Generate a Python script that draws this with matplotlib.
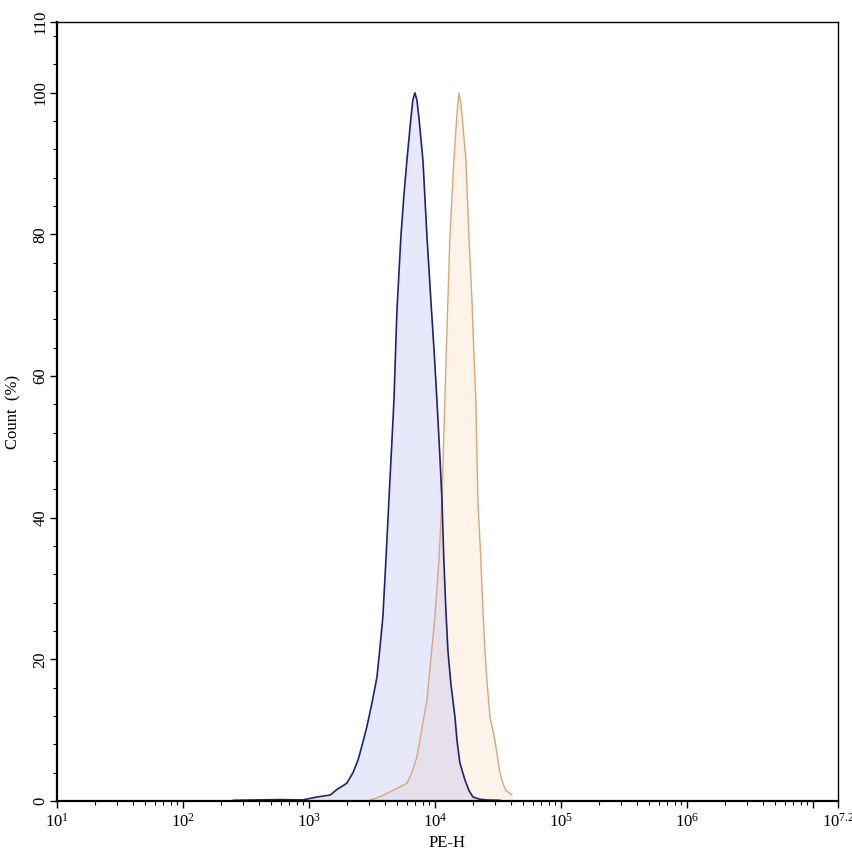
import numpy as np
import matplotlib
matplotlib.use("Agg")
import matplotlib.pyplot as plt
from matplotlib.ticker import FixedLocator, FixedFormatter, LogLocator, NullFormatter, MultipleLocator

plt.rcParams['font.family'] = ['Liberation Serif', 'DejaVu Serif']
plt.rcParams['mathtext.fontset'] = 'custom'
plt.rcParams['mathtext.rm'] = 'Liberation Serif'
plt.rcParams['mathtext.it'] = 'Liberation Serif'

# Dados (log10 da intensidade PE-H, contagem em %)
azul_log = [2.40, 2.77, 2.95, 3.06, 3.17, 3.22, 3.30, 3.35, 3.39, 3.421, 3.46, 3.50, 3.54,
            3.563, 3.587, 3.611, 3.635, 3.655, 3.675, 3.698, 3.73, 3.754, 3.778, 3.810,
            3.825, 3.841, 3.857, 3.873, 3.905, 3.937, 3.968, 3.992, 4.016, 4.040,
            4.056, 4.071, 4.087, 4.103, 4.127, 4.159, 4.175, 4.198, 4.238, 4.270,
            4.302, 4.357, 4.413, 4.516]
azul_cont = [0.1, 0.2, 0.15, 0.55, 0.85, 1.6, 2.5, 4.0, 5.8, 7.8, 10.5, 13.8, 17.5,
             21.5, 26.0, 34.0, 42.5, 49.5, 56.6, 69.0, 79.7, 85.5, 90.5, 96.5,
             99.0, 100.0, 99.0, 96.5, 90.5, 79.7, 70.7, 64.0, 56.6, 48.5,
             42.5, 34.0, 27.0, 21.3, 16.5, 11.9, 8.6, 5.4, 3.0, 1.5,
             0.56, 0.25, 0.14, 0.1]

laranja_log = [3.484, 3.563, 3.667, 3.722, 3.778, 3.817, 3.857, 3.937, 3.968, 4.0, 4.032,
               4.056, 4.079, 4.103, 4.119, 4.151, 4.175, 4.190, 4.206, 4.222, 4.246,
               4.270, 4.294, 4.310, 4.325, 4.341, 4.365, 4.381, 4.397, 4.413, 4.437,
               4.476, 4.516, 4.540, 4.563, 4.611]
laranja_cont = [0.1, 0.6, 1.5, 2.0, 2.5, 4.0, 6.2, 14.3, 20.0, 26.0, 34.0,
                42.5, 56.6, 70.7, 79.7, 90.5, 97.0, 100.0, 98.5, 95.5, 90.5,
                79.7, 70.7, 63.0, 56.6, 42.5, 34.0, 27.0, 21.3, 17.0, 11.9,
                8.6, 4.0, 2.5, 1.5, 0.85]

x_ticks_exp = [1, 2, 3, 4, 5, 6, 7, 7.2]
x_tick_labels = ['$10^{1}$', '$10^{2}$', '$10^{3}$', '$10^{4}$', '$10^{5}$', '$10^{6}$', '', '$10^{7.2}$']
y_ticks = [0, 20, 40, 60, 80, 100, 110]

azul_x = 10 ** np.array(azul_log)
laranja_x = 10 ** np.array(laranja_log)

fig = plt.figure(figsize=(8.53, 8.56), dpi=100)
ax = fig.add_axes([57 / 853, 55 / 856, 781 / 853, 779 / 856])

ax.fill_between(laranja_x, laranja_cont, 0, color='#fbe3c6', alpha=0.4, lw=0)
ax.plot(laranja_x, laranja_cont, color='#d9a57a', lw=1.0)
ax.fill_between(azul_x, azul_cont, 0, color='#aab2f3', alpha=0.28, lw=0)
ax.plot(azul_x, azul_cont, color='#1f2370', lw=1.2)

ax.set_xscale('log')
ax.set_xlim(10, 10 ** 7.2)
ax.set_ylim(0, 110)

ax.xaxis.set_major_locator(FixedLocator([10 ** e for e in x_ticks_exp]))
ax.xaxis.set_major_formatter(FixedFormatter(x_tick_labels))
ax.xaxis.set_minor_locator(LogLocator(base=10, subs=np.arange(2, 10), numticks=20))
ax.xaxis.set_minor_formatter(NullFormatter())

ax.yaxis.set_major_locator(FixedLocator(y_ticks))
ax.yaxis.set_minor_locator(MultipleLocator(4))

ax.tick_params(axis='both', which='major', length=5, width=1, labelsize=12, color='black')
ax.tick_params(axis='both', which='minor', length=3, width=0.8, color='black')
ax.tick_params(axis='y', labelrotation=90, pad=1)
for lbl in ax.get_yticklabels():
    lbl.set_va('center')

for lado in ['left', 'bottom']:
    ax.spines[lado].set_linewidth(1.6)
for lado in ['top', 'right']:
    ax.spines[lado].set_linewidth(1.0)

ax.set_xlabel('PE-H', fontsize=12, labelpad=3)
ax.set_ylabel('Count  (%)', fontsize=12, labelpad=8)

fig.savefig('out.png', dpi=100)
